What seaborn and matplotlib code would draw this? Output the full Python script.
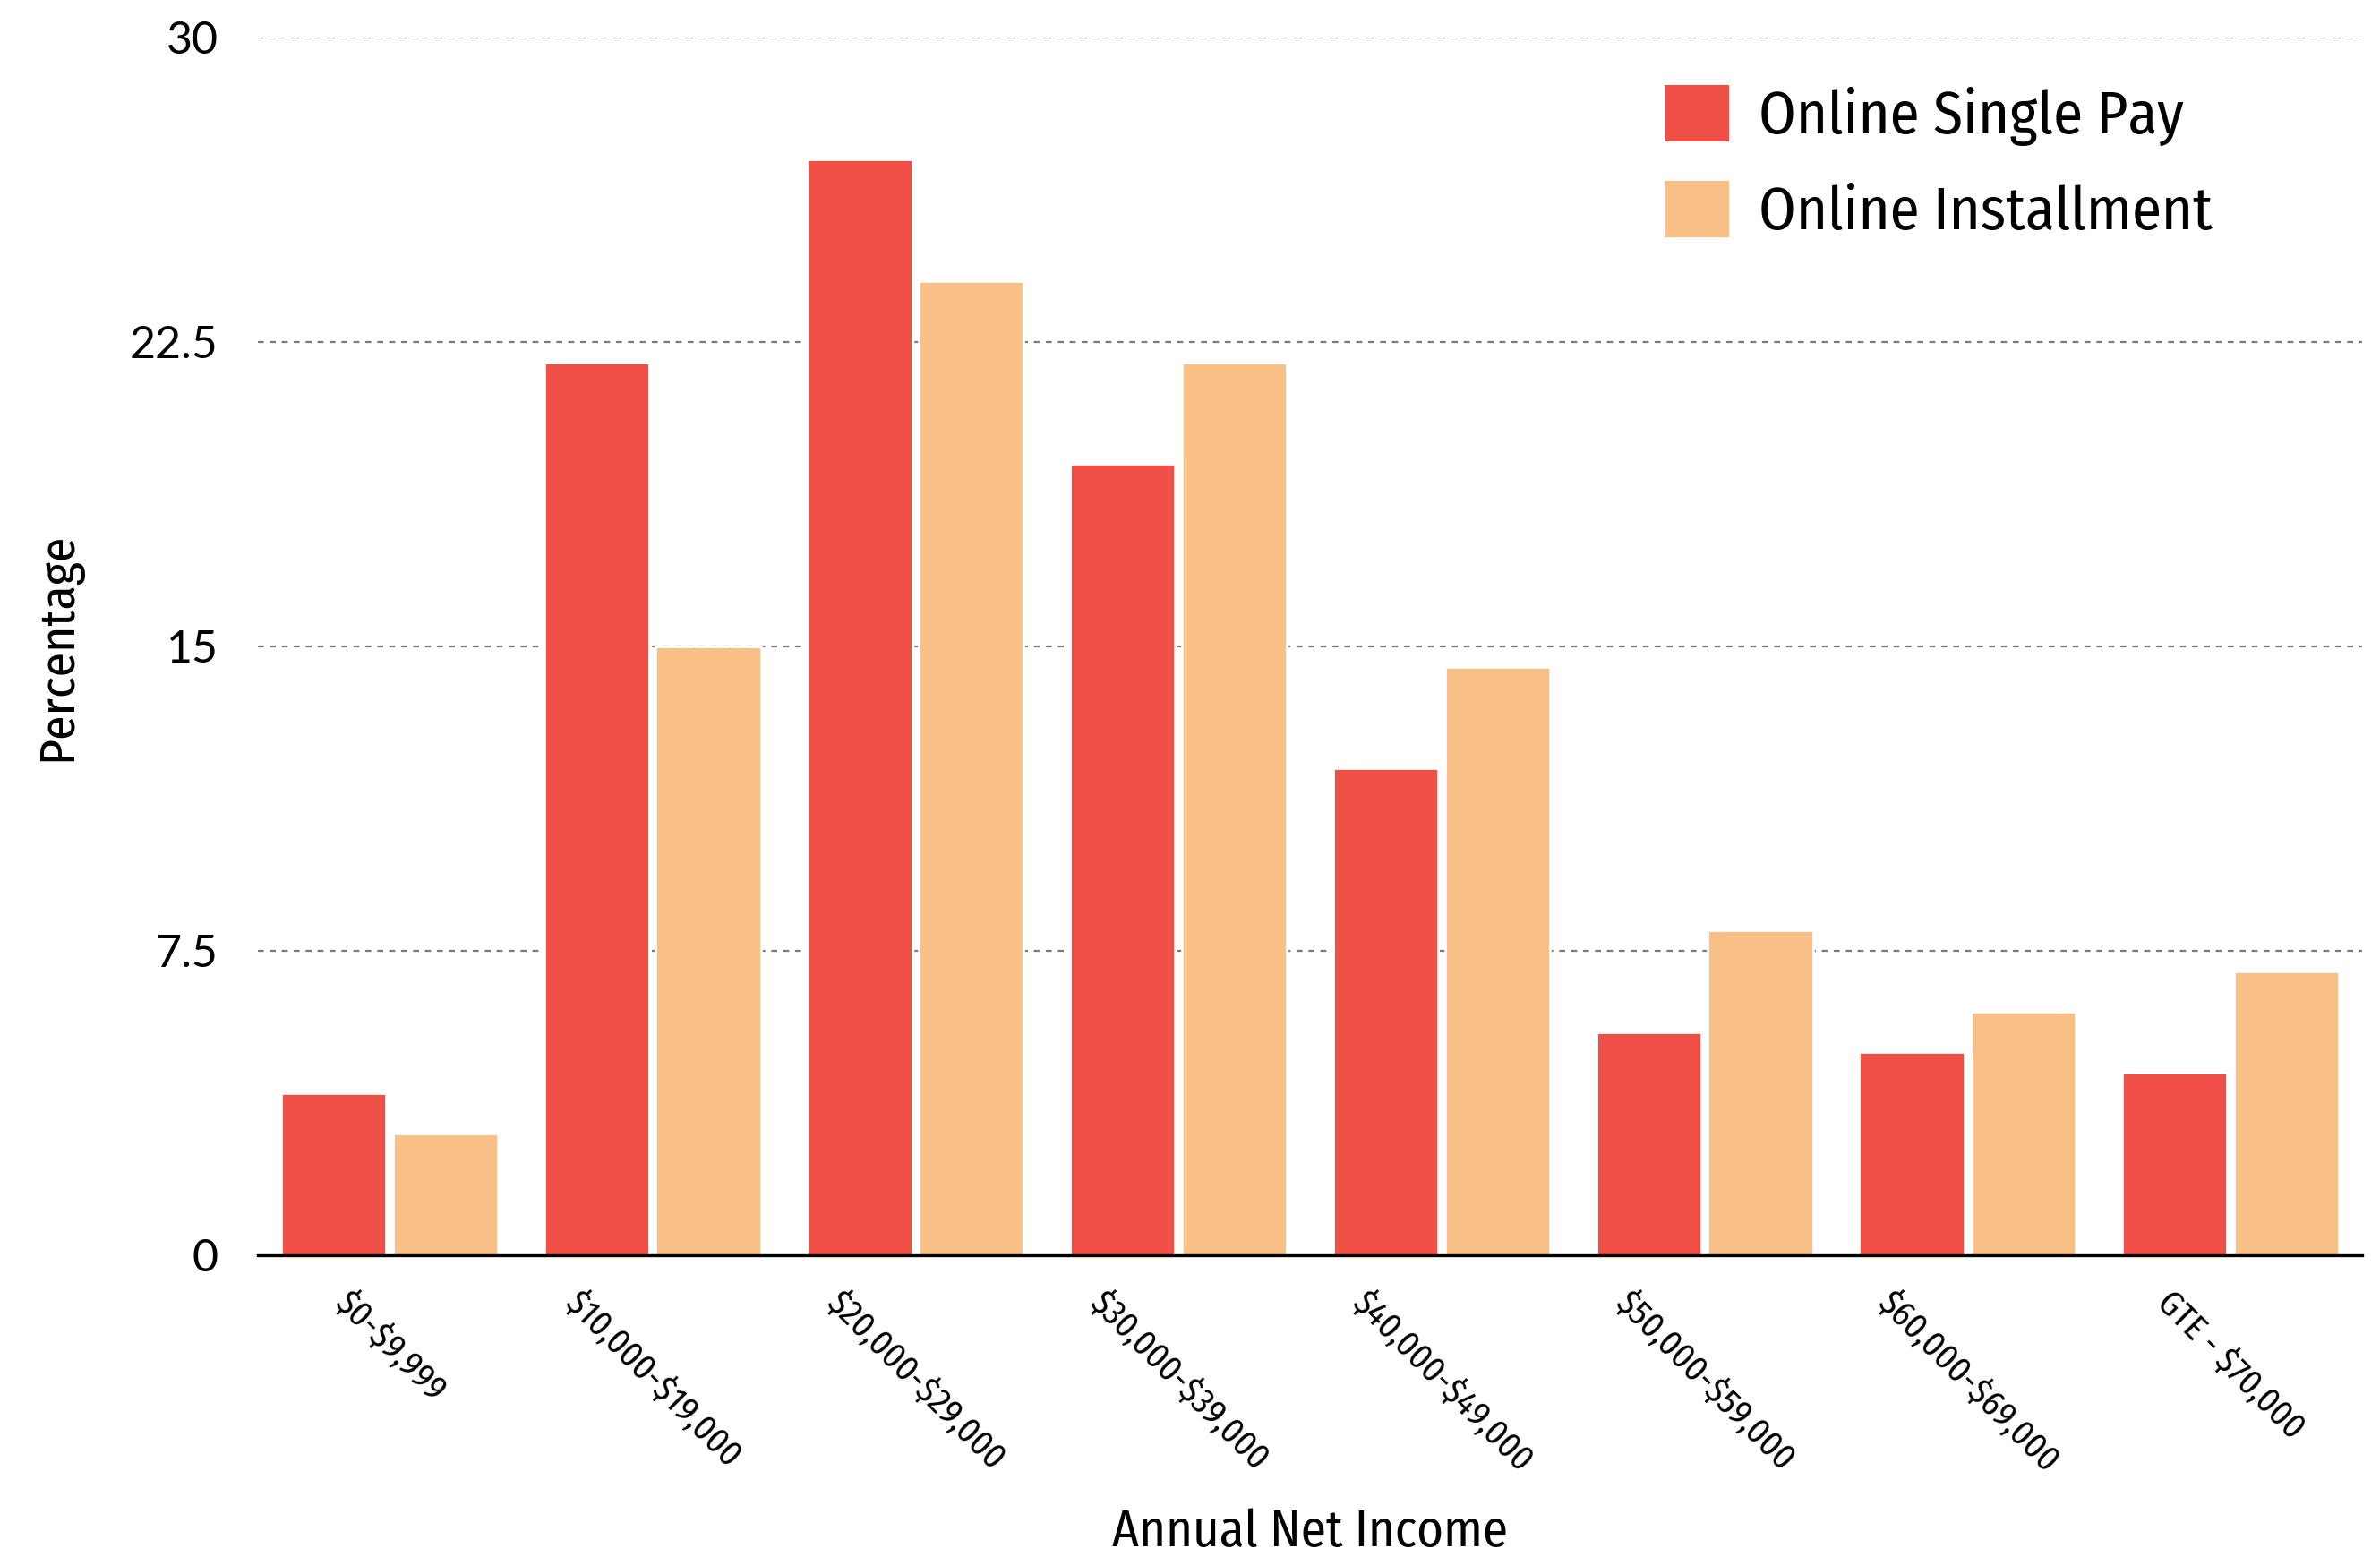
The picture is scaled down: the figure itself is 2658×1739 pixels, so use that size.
import matplotlib
matplotlib.use("Agg")
import matplotlib.pyplot as plt
import seaborn as sns
import pandas as pd
from matplotlib.patches import Patch

categories = ["$0-$9,999", "$10,000-$19,000", "$20,000-$29,000", "$30,000-$39,000",
              "$40,000-$49,000", "$50,000-$59,000", "$60,000-$69,000", "GTE - $70,000"]
single_pay = [4, 22, 27, 19.5, 12, 5.5, 5, 4.5]
installment = [3, 15, 24, 22, 14.5, 8, 6, 7]
series_names = ["Online Single Pay", "Online Installment"]
colors = ["#F04F45", "#F8BF86"]
y_ticks = [0, 7.5, 15, 22.5, 30]
y_tick_labels = ["0", "7.5", "15", "22.5", "30"]

df = pd.DataFrame({
    "Income": categories * 2,
    "Value": single_pay + installment,
    "Series": [series_names[0]] * len(categories) + [series_names[1]] * len(categories),
})

sns.set_style("white")
cond = ["Fira Sans Condensed", "Fira Sans Extra Condensed", "DejaVu Sans"]
plt.rcParams["font.family"] = cond
plt.rcParams["text.color"] = "black"

fig = plt.figure(figsize=(13.29, 8.695), dpi=200)
ax = fig.add_axes([288/2658, 1 - 1402/1739, (2638-288)/2658, (1402-42)/1739])

sns.barplot(data=df, x="Income", y="Value", hue="Series", palette=colors,
            width=0.85, gap=0.06, saturation=1, ax=ax, legend=False)

ax.set_xlim(-0.5, len(categories) - 0.5)
ax.set_ylim(0, 30)
ax.set_yticks(y_ticks)
ax.set_yticklabels(y_tick_labels, family=["Lato", "DejaVu Sans"], fontsize=18, color="black")
for y in y_ticks[1:]:
    ax.axhline(y, color="#7a7a7a", lw=0.8, ls=(0, (3, 3)), zorder=0)

for s in ["left", "right", "top"]:
    ax.spines[s].set_visible(False)
ax.spines["bottom"].set_color("black")
ax.spines["bottom"].set_linewidth(1.2)
ax.tick_params(axis="y", length=0, pad=16)
ax.tick_params(axis="x", length=0, pad=12)
ax.set_xticks(range(len(categories)))
ax.set_xticklabels([c.replace("$", r"\$") for c in categories],
                   rotation=-45, ha="center", va="top", fontsize=14, color="black")

ax.set_xlabel("Annual Net Income", fontsize=20.5, color="black")
ax.set_ylabel("Percentage", fontsize=20, color="black")
ax.xaxis.label.set_va("center")
ax.yaxis.label.set_va("center")
ax.xaxis.set_label_coords(0.5, -0.228)
ax.yaxis.set_label_coords(-0.0952, 0.5)

handles = [Patch(facecolor=c, edgecolor="none") for c in colors]
fig.legend(handles, series_names, loc="upper left",
           bbox_to_anchor=(1859/2658, 1 - 95/1739), frameon=False,
           fontsize=24, handlelength=1.08, handleheight=1.08, handletextpad=0.5,
           labelspacing=0.58, borderpad=0, borderaxespad=0)

fig.savefig("out.png", dpi=200)
